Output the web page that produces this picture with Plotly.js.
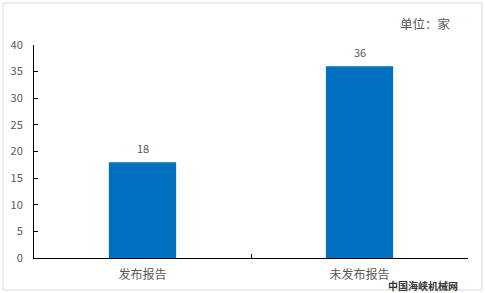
<!DOCTYPE html>
<html>
<head>
<meta charset="utf-8">
<script src="https://cdn.plot.ly/plotly-3.0.1.min.js"></script>
<style>html,body{margin:0;padding:0;background:#fff;}#chart{width:485px;height:293px;}</style>
</head>
<body>
<div id="chart"></div>
<script>
const categories = ["发布报告", "未发布报告"];
const counts = [18, 36];
const yTicks = [0, 5, 10, 15, 20, 25, 30, 35, 40];

const font = "'Noto Sans CJK SC', 'Liberation Sans', sans-serif";

const trace = {
  type: "bar",
  x: categories,
  y: counts,
  width: 0.31,
  marker: {color: "#0070C0"},
  cliponaxis: false,
  hoverinfo: "none"
};

const valueLabels = categories.map((c, i) => ({
  text: String(counts[i]), x: c, y: counts[i], xref: "x", yref: "y",
  yshift: 14, showarrow: false, xanchor: "center", yanchor: "middle",
  font: {family: font, size: 11, color: "#595959"}
}));

const layout = {
  width: 485, height: 293,
  margin: {l: 34, r: 17, t: 45, b: 35},
  paper_bgcolor: "#fff", plot_bgcolor: "#fff",
  showlegend: false,
  font: {family: font, color: "#595959"},
  xaxis: {
    type: "category",
    showline: true, linecolor: "#000", linewidth: 1,
    ticks: "inside", tickson: "boundaries", ticklen: 4, tickcolor: "#000",
    ticklabelstandoff: 6,
    tickfont: {family: font, size: 12, color: "#595959"},
    showgrid: false, zeroline: false, fixedrange: true
  },
  yaxis: {
    range: [0, 40],
    tickvals: yTicks,
    showline: true, linecolor: "#000", linewidth: 1,
    ticks: "inside", ticklen: 4, tickcolor: "#000",
    ticklabelstandoff: 8,
    tickfont: {family: font, size: 11, color: "#595959"},
    showgrid: false, zeroline: false, fixedrange: true
  },
  shapes: [{
    type: "rect", xref: "paper", yref: "paper",
    x0: -31/434, x1: 1 + 14/434, y0: -32/213, y1: 1 + 42/213,
    line: {color: "#d9d9d9", width: 1}, fillcolor: "rgba(0,0,0,0)", layer: "below"
  }],
  annotations: valueLabels.concat([
    {text: "单位：家", xref: "paper", yref: "paper", x: 1 - 15/434, y: 1 + 21/213,
     xanchor: "right", yanchor: "middle", showarrow: false,
     font: {family: font, size: 12.5, color: "#595959"}},
    {text: "<b>中国海峡机械网</b>", xref: "paper", yref: "paper", x: 1 - 8/434, y: -27/213,
     xanchor: "right", yanchor: "middle", showarrow: false,
     font: {family: font, size: 10, color: "#333"}}
  ])
};

Plotly.newPlot("chart", [trace], layout, {displayModeBar: false, staticPlot: true});
</script>
</body>
</html>
